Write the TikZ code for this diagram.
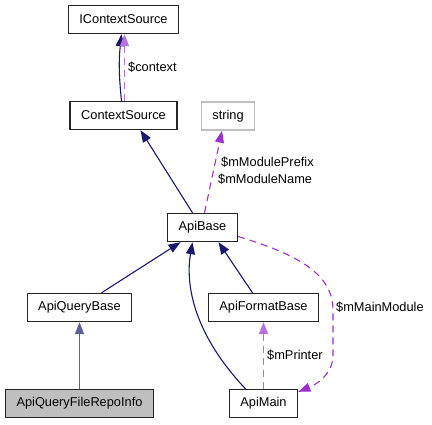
\documentclass[tikz,border=0pt]{standalone}
\usepackage{fontspec}
\setmainfont{Liberation Sans}
\usetikzlibrary{arrows.meta,shapes}
\definecolor{navy}{RGB}{25,25,112}
\definecolor{orchid}{RGB}{154,50,205}
\tikzstyle{cls}=[draw=black!85,line width=1.4pt,fill=white,minimum height=28pt,inner xsep=11pt,font=\fontsize{12.8}{15}\selectfont]
\tikzstyle{lbl}=[anchor=west,inner sep=0pt,font=\fontsize{12.8}{15}\selectfont]
\tikzstyle{inherit}=[draw=navy,line width=1.1pt,-{Triangle[length=12pt,width=9pt]}]
\tikzstyle{use}=[draw=orchid,line width=1.1pt,dash pattern=on 7pt off 5pt,-{Triangle[length=12pt,width=9pt]}]

\begin{document}
\begin{tikzpicture}[x=1pt,y=-1pt]
        \useasboundingbox (0,0) rectangle (432,424);
        %\tikzset{inherit/.style = {->,>=latex'}}
        \node[cls] (icontext) at (123.5,19.5) {IContextSource};
        \node[cls] (ctxsrc) at (123.5,115.5) {ContextSource};
        \node[cls,draw=black!25] (string) at (228,116) {string};
        \node[cls] (apibase) at (202.5,227.5) {ApiBase};
        \node[cls] (querybase) at (79.5,307.5) {ApiQueryBase};
        \node[cls] (formatbase) at (263.5,307.5) {ApiFormatBase};
        \node[cls,fill=black!25] (repoinfo) at (79.5,403.5) {ApiQueryFileRepoInfo};
        \node[cls] (apimain) at (263.5,403.5) {ApiMain};
        \draw[inherit] ([xshift=-2pt]ctxsrc.north) to[bend left=6] ([xshift=-2pt]icontext.south);
        \draw[use,draw=orchid!70,line width=1.5pt] ([xshift=1pt]ctxsrc.north) -- ([xshift=1pt]icontext.south);
        \node[lbl] (lcontext) at (128,67) {\$context};
        \draw[inherit] ([xshift=-10pt]apibase.north) -- ([xshift=17pt]ctxsrc.south);
        \draw[use] ([xshift=2pt]apibase.north) -- ([xshift=-6pt]string.south);
        \node[lbl] (lprefix) at (221,162) {\$mModulePrefix};
        \node[lbl] (lname) at (218,179) {\$mModuleName};
        \draw[inherit] ([xshift=22pt]querybase.north) -- ([xshift=-22pt]apibase.south);
        \draw[inherit] ([xshift=-11pt]formatbase.north) -- ([xshift=16pt]apibase.south);
        \draw[inherit] ([xshift=-18pt]apimain.north) .. controls (190,330) and (186,280) .. ([xshift=-10pt]apibase.south);
        \draw[inherit,draw=navy!70,line width=1.5pt] (repoinfo) -- (querybase);
        \draw[use,draw=orchid!70,line width=1.5pt] (apimain) -- (formatbase);
        \node[lbl] (lprinter) at (267,355) {\$mPrinter};
        \draw[use] ([yshift=-9pt]apibase.east) .. controls (300,255) and (333,275) .. (333,310)
              -- (333,355) .. controls (333,375) and (315,385) .. ([yshift=-3pt]apimain.north east);
        \node[lbl] (lmain) at (336,307) {\$mMainModule};
      \end{tikzpicture}
\end{document}
